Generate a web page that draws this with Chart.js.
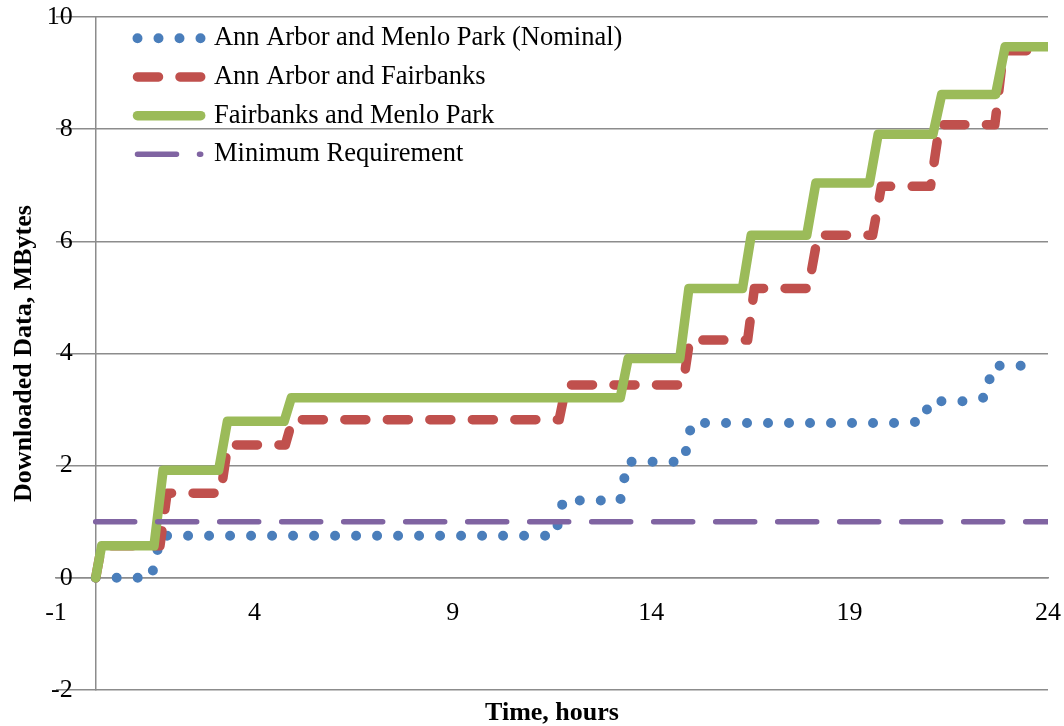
<!DOCTYPE html>
<html>
<head>
<meta charset="utf-8">
<script src="https://cdn.jsdelivr.net/npm/chart.js@4/dist/chart.umd.min.js"></script>
<style>
  html, body { margin: 0; padding: 0; background: #ffffff; }
  #wrap { width: 1064px; height: 726px; }
</style>
</head>
<body>
<div id="wrap"><canvas id="c" width="1064" height="726"></canvas></div>
<script>
// Downloaded data (MBytes) against time (hours) for each ground-station pair.
const seriesLabels = [
  'Ann Arbor and Menlo Park (Nominal)',
  'Ann Arbor and Fairbanks',
  'Fairbanks and Menlo Park',
  'Minimum Requirement'
];

const nominalHours = [0, 1.40, 1.64, 11.58, 11.78, 13.22, 13.40, 14.82, 15.02, 20.45, 20.88, 21.00, 21.97, 22.43, 22.60, 23.50];
const nominalMB    = [0, 0,    0.75, 0.75,  1.38,  1.38,  2.07,  2.07,  2.76,  2.76,  2.80,  3.15,  3.15,  3.22,  3.78,  3.78];

const annFairHours = [0, 0.15, 1.62, 1.80, 3.15, 3.33, 4.78, 4.96, 11.68, 11.86, 14.80, 14.97, 16.43, 16.60, 17.96, 18.20, 19.58, 19.80, 21.04, 21.27, 22.66, 22.88, 24];
const annFairMB    = [0, 0.57, 0.57, 1.51, 1.51, 2.37, 2.37, 2.82, 2.82,  3.44,  3.44,  4.24,  4.24,  5.16,  5.16,  6.11,  6.11,  6.98,  6.98,  8.08,  8.08,  9.40,  9.40];

const fairMenloHours = [0, 0.15, 1.47, 1.70, 3.10, 3.32, 4.75, 4.93, 13.22, 13.42, 14.72, 14.95, 16.30, 16.52, 17.92, 18.15, 19.50, 19.72, 21.10, 21.32, 22.68, 22.92, 24];
const fairMenloMB    = [0, 0.57, 0.57, 1.92, 1.92, 2.79, 2.79, 3.21, 3.21,  3.91,  3.91,  5.16,  5.16,  6.11,  6.11,  7.04,  7.04,  7.91,  7.91,  8.62,  8.62,  9.47,  9.47];

const minimumHours = [0, 24];
const minimumMB    = [1, 1];

const xTickRange = { min: -1, max: 24, step: 5 };
const yTickRange = { min: -2, max: 10, step: 2 };

const xTitleText = 'Time, hours';
const yTitleText = 'Downloaded Data, MBytes';

const toPoints = (hours, mb) => hours.map((h, i) => ({ x: h, y: mb[i] }));

const GRID = '#8c8c8c';
const SERIF = "'Liberation Serif', 'Times New Roman', serif";

Chart.defaults.font.family = SERIF;
Chart.defaults.color = '#000000';

// Moves the built-in legend to the upper-left corner of the plot.
const legendSpot = {
  id: 'legendSpot',
  afterLayout(chart) {
    const lg = chart.legend;
    if (!lg) return;
    const pad = lg.options.labels.padding;
    lg.left = 137.5 - pad;
    lg.top = 25 - pad;
    lg.right = lg.left + lg.width;
    lg.bottom = lg.top + lg.height;
  }
};

const lineBase = {
  pointRadius: 0,
  pointHoverRadius: 0,
  tension: 0,
  fill: false,
  borderJoinStyle: 'round',
  borderCapStyle: 'round',
  clip: 0,
  xAxisID: 'x',
  yAxisID: 'y'
};

const tickFont = { family: SERIF, size: 26 };
const titleFont = { family: SERIF, size: 26, weight: 'bold', lineHeight: 1 };

new Chart(document.getElementById('c'), {
  type: 'line',
  data: {
    datasets: [
      Object.assign({}, lineBase, {
        label: seriesLabels[0],
        data: toPoints(nominalHours, nominalMB),
        borderColor: '#4a7ebb',
        borderWidth: 10,
        borderDash: [0, 21],
        order: 4
      }),
      Object.assign({}, lineBase, {
        label: seriesLabels[1],
        data: toPoints(annFairHours, annFairMB),
        borderColor: '#c0504d',
        borderWidth: 9.5,
        borderDash: [21, 21.5],
        order: 3
      }),
      Object.assign({}, lineBase, {
        label: seriesLabels[2],
        data: toPoints(fairMenloHours, fairMenloMB),
        borderColor: '#9bbb59',
        borderWidth: 9.5,
        borderDash: [],
        order: 2
      }),
      Object.assign({}, lineBase, {
        label: seriesLabels[3],
        data: toPoints(minimumHours, minimumMB),
        borderColor: '#8064a2',
        borderWidth: 5.5,
        borderDash: [39, 23],
        order: 1
      })
    ]
  },
  options: {
    responsive: false,
    animation: false,
    devicePixelRatio: 1,
    events: [],
    layout: { padding: { left: 8.9, top: 17, right: 16, bottom: 0 } },
    plugins: {
      tooltip: { enabled: false },
      legend: {
        position: 'chartArea',
        align: 'start',
        labels: {
          usePointStyle: true,
          pointStyleWidth: 63.2,
          padding: 12.2,
          font: { family: SERIF, size: 26.5 },
          generateLabels(chart) {
            return chart.data.datasets.map((ds, i) => ({
              text: ds.label,
              fillStyle: 'rgba(0,0,0,0)',
              strokeStyle: ds.borderColor,
              lineWidth: ds.borderWidth,
              lineDash: ds.borderDash,
              lineCap: 'round',
              lineJoin: 'round',
              pointStyle: 'line',
              rotation: 180,
              fontColor: '#000000',
              hidden: !chart.isDatasetVisible(i),
              datasetIndex: i
            }));
          }
        }
      }
    },
    scales: {
      // horizontal axis crossing the vertical one at 0 MBytes
      x: {
        type: 'linear',
        position: { y: 0 },
        min: xTickRange.min,
        max: xTickRange.max,
        ticks: {
          stepSize: xTickRange.step,
          padding: 0,
          maxRotation: 0,
          autoSkip: false,
          color: '#000000',
          font: tickFont
        },
        grid: { display: false, drawTicks: true, tickLength: 20, tickColor: 'rgba(0,0,0,0)' },
        border: { display: true, color: GRID, width: 1.5 }
      },
      // vertical axis crossing the time axis at 0 hours; carries the gridlines
      y: {
        type: 'linear',
        position: { x: 0 },
        min: yTickRange.min,
        max: yTickRange.max,
        ticks: { stepSize: yTickRange.step, display: false },
        grid: { color: GRID, lineWidth: 1.5, drawTicks: false },
        border: { display: true, color: GRID, width: 1.5 }
      },
      // value labels of the vertical axis, set just left of it
      yLabels: {
        type: 'linear',
        axis: 'y',
        position: { x: -0.58 },
        min: yTickRange.min,
        max: yTickRange.max,
        ticks: {
          stepSize: yTickRange.step,
          padding: 0,
          color: '#000000',
          font: tickFont
        },
        grid: { display: false, drawTicks: false },
        border: { display: false }
      },
      yTitle: {
        type: 'linear',
        axis: 'y',
        position: 'left',
        min: 0,
        max: 1,
        ticks: { display: false },
        grid: { display: false, drawTicks: false },
        border: { display: false },
        title: {
          display: true,
          text: yTitleText,
          color: '#000000',
          padding: { top: 2.5, bottom: 18.6 },
          font: titleFont
        }
      },
      xTitle: {
        type: 'linear',
        axis: 'x',
        position: 'bottom',
        min: 0,
        max: 1,
        ticks: { display: false },
        grid: { display: false, drawTicks: false },
        border: { display: false },
        title: {
          display: true,
          text: xTitleText,
          color: '#000000',
          padding: { top: 10, bottom: 0 },
          font: titleFont
        }
      }
    }
  },
  plugins: [legendSpot]
});
</script>
</body>
</html>
